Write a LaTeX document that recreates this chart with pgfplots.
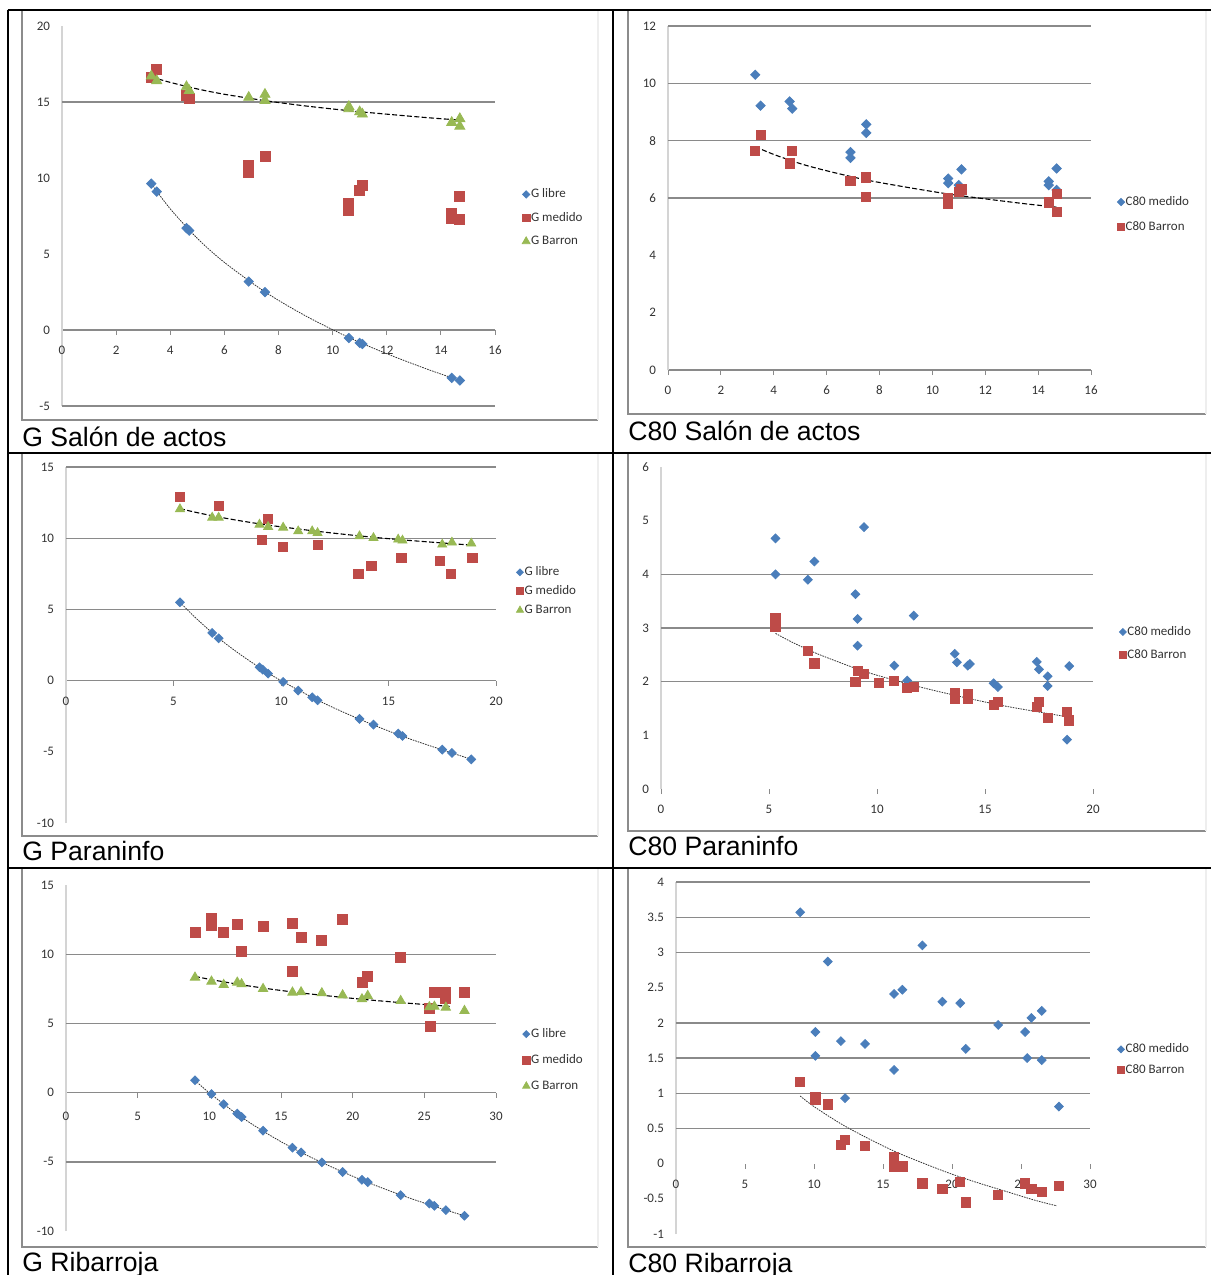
\documentclass[border=0pt]{standalone}
\usepackage{pgfplots}
\pgfplotsset{compat=1.18}
\usepackage{fontspec}
\setmainfont{Carlito}
\newfontfamily\capfont{Liberation Sans}

\definecolor{serA}{HTML}{4A7EBB}
\definecolor{serB}{HTML}{BE4B48}
\definecolor{serC}{HTML}{98B954}
\definecolor{axc}{HTML}{8A8A8A}
\definecolor{yaxc}{HTML}{D4D4D4}
\definecolor{frm}{HTML}{8C8C8C}
\definecolor{frmr}{HTML}{EEEEEE}

\pgfplotsset{
  excel/.style={
    scale only axis, anchor=south west, clip=false,
    axis x line=middle, axis y line=left, axis line style={-},
    x axis line style={draw=axc, line width=0.7pt},
    y axis line style={draw=yaxc, line width=0.8pt},
    tick align=outside, major tick length=2.5pt,
    xtick style={draw=axc, line width=0.5pt},
    ytick style={draw=none},
    hide obscured x ticks=false, hide obscured y ticks=false,
    tick label style={font=\fontsize{6.5}{7}\selectfont, text=black!80},
    xticklabel style={yshift=-2pt},
    /pgf/number format/assume math mode=true,
    major grid style={draw=axc, line width=0.7pt},
    extra y tick style={grid=major, tick style={draw=none}},
    extra y tick labels={},
    legend cell align=left,
    legend image code/.code={\draw[mark repeat=2,mark phase=2,##1,every mark/.append style={scale=0.78}] plot coordinates {(0pt,0pt)(2pt,0pt)(4pt,0pt)};},
    legend style={draw=none, fill=none, inner sep=0pt, anchor=west,
      font=\fontsize{6.5}{7}\selectfont, text=black!80,
      nodes={inner sep=0.5pt, text height=4.6pt, text depth=1.2pt},
      /tikz/every even column/.append style={column sep=0pt}},
  },
  sA/.style={only marks, mark=square*, mark options={rotate=45}, color=serA, mark size=1.65pt},
  sB/.style={only marks, mark=square*, color=serB, mark size=2.5pt},
  sC/.style={only marks, mark=triangle*, color=serC, mark size=2.9pt},
  trendD/.style={black, line width=0.55pt, dash pattern=on 2.5pt off 1.2pt, smooth, no marks, forget plot},
  trendS/.style={black!80, line width=0.4pt, dash pattern=on 0.8pt off 0.5pt, smooth, no marks, forget plot},
}

\begin{document}
\begin{tikzpicture}
\path[use as bounding box] (0pt,0pt) rectangle (605.5pt,-637.5pt);

% ---------- G Salon de actos ----------
\begin{axis}[excel, at={(31pt,-203pt)}, width=216.5pt, height=190pt,
  xmin=0, xmax=16, ymin=-5, ymax=20, xtick={0,2,...,16}, ytick={-5,0,...,20},
  extra y ticks={15,-5},
  legend style={at={(1.062,0.495)}, row sep=4.95pt}]
\addplot[sA] coordinates {(3.3,9.63)(3.5,9.10)(4.6,6.70)(4.7,6.54)(6.9,3.19)(7.5,2.49)(10.6,-0.53)(11.0,-0.85)(11.1,-0.92)(14.4,-3.15)(14.7,-3.32)};
\addplot[sB] coordinates {(3.3,16.6)(3.5,17.15)(4.6,15.45)(4.7,15.25)(6.9,10.8)(6.9,10.4)(7.5,11.4)(10.6,8.3)(10.6,7.9)(11.0,9.2)(11.1,9.5)(14.4,7.7)(14.4,7.35)(14.7,8.8)(14.7,7.25)};
\addplot[sC] coordinates {(3.3,16.7)(3.5,16.4)(4.6,16.0)(4.7,15.75)(6.9,15.3)(7.5,15.5)(7.5,15.1)(10.6,14.7)(10.6,14.55)(11.0,14.35)(11.1,14.2)(14.4,13.65)(14.7,13.9)(14.7,13.4)};
\addplot[trendD] coordinates {(3.3,16.65)(4,16.29)(5,15.86)(6,15.51)(7.5,15.09)(9,14.74)(10.6,14.43)(12,14.20)(13.5,13.97)(14.7,13.81)};
\addplot[trendS] coordinates {(3.3,9.63)(4,7.97)(5,6.03)(6,4.45)(7.5,2.51)(9,0.93)(10.6,-0.49)(12,-1.56)(13.5,-2.58)(14.7,-3.32)};
\legend{G libre, G medido, G Barron}
\end{axis}

% ---------- C80 Salon de actos ----------
\begin{axis}[excel, at={(334pt,-185pt)}, width=211.5pt, height=172pt,
  xmin=0, xmax=16, ymin=0, ymax=12, xtick={0,2,...,16}, ytick={0,2,...,12},
  extra y ticks={12,10,8,6},
  legend style={at={(1.0615,0.452)}, row sep=5.7pt}]
\addplot[sA] coordinates {(3.3,10.3)(3.5,9.22)(4.6,9.37)(4.7,9.12)(6.9,7.6)(6.9,7.4)(7.5,8.57)(7.5,8.27)(10.6,6.68)(10.6,6.52)(11.0,6.45)(11.1,7.0)(14.4,6.58)(14.4,6.45)(14.7,7.03)(14.7,6.28)};
\addplot[sB, mark size=2.3pt] coordinates {(3.3,7.64)(3.5,8.2)(4.6,7.21)(4.7,7.64)(6.9,6.6)(7.5,6.72)(7.5,6.05)(10.6,6.0)(10.6,5.8)(11.0,6.2)(11.1,6.3)(14.4,5.85)(14.7,6.14)(14.7,5.51)};
\addplot[trendD] coordinates {(3.3,7.79)(4,7.52)(5,7.20)(6,6.95)(7.5,6.63)(9,6.38)(10.6,6.14)(12,5.97)(13.5,5.80)(14.7,5.68)};
\legend{C80 medido, C80 Barron}
\end{axis}

% ---------- G Paraninfo ----------
\begin{axis}[excel, at={(33pt,-411.5pt)}, width=215pt, height=178pt,
  xmin=0, xmax=20, ymin=-10, ymax=15, xtick={0,5,...,20}, ytick={-10,-5,...,15},
  extra y ticks={15,10,5},
  legend style={at={(1.0465,0.651)}, row sep=2.7pt}]
\addplot[sA, mark size=1.55pt] coordinates {(5.3,5.50)(6.8,3.35)(7.1,2.97)(9.0,0.94)(9.15,0.77)(9.4,0.49)(10.1,-0.09)(10.8,-0.70)(11.45,-1.17)(11.7,-1.38)(13.65,-2.69)(14.3,-3.09)(15.45,-3.72)(15.65,-3.89)(17.5,-4.85)(17.95,-5.08)(18.85,-5.53)};
\addplot[sB, mark size=2.3pt] coordinates {(5.3,12.88)(7.1,12.25)(9.4,11.33)(9.1,9.86)(10.1,9.41)(11.7,9.55)(13.6,7.52)(14.2,8.03)(15.6,8.62)(17.4,8.43)(17.9,7.52)(18.9,8.64)};
\addplot[sC, mark size=2.6pt] coordinates {(5.3,12.04)(6.8,11.45)(7.1,11.45)(9.0,10.96)(9.4,10.80)(10.1,10.75)(10.8,10.49)(11.45,10.49)(11.7,10.37)(13.65,10.14)(14.3,10.02)(15.45,9.91)(15.65,9.84)(17.5,9.56)(17.95,9.70)(18.85,9.63)};
\addplot[trendD] coordinates {(5.3,12.08)(6,11.83)(7,11.52)(8,11.25)(9,11.01)(10,10.80)(12,10.43)(14,10.11)(16,9.84)(18.9,9.51)};
\addplot[trendS] coordinates {(5.3,5.50)(6,4.45)(7,3.10)(8,1.95)(9,0.92)(10,0.0)(12,-1.59)(14,-2.93)(16,-4.10)(18.86,-5.53)};
\legend{G libre, G medido, G Barron}
\end{axis}

% ---------- C80 Paraninfo ----------
\begin{axis}[excel, at={(330.5pt,-394.5pt)}, width=216pt, height=161pt,
  xmin=0, xmax=20, ymin=0, ymax=6, xtick={0,5,...,20}, ytick={0,1,...,6},
  x axis line style={draw=none}, y axis line style={line width=1.3pt},
  extra y ticks={4,3,2},
  legend style={at={(1.060,0.452)}, row sep=4.7pt}]
\addplot[sA, mark size=1.55pt] coordinates {(5.3,4.67)(5.3,4.00)(6.8,3.90)(7.1,4.24)(9.0,3.63)(9.1,3.17)(9.1,2.67)(9.4,4.88)(10.8,2.30)(11.4,2.02)(11.7,3.23)(13.6,2.52)(13.7,2.36)(14.2,2.30)(14.3,2.33)(15.4,1.97)(15.6,1.90)(17.4,2.37)(17.5,2.23)(17.9,2.10)(17.9,1.92)(18.8,0.92)(18.9,2.29)};
\addplot[sB, mark size=2.3pt] coordinates {(5.3,3.19)(5.3,3.03)(6.8,2.58)(7.1,2.34)(9.0,2.00)(9.1,2.20)(9.4,2.15)(10.1,1.98)(10.8,2.01)(11.4,1.88)(11.7,1.90)(13.6,1.78)(13.6,1.69)(14.2,1.77)(14.2,1.69)(15.4,1.57)(15.6,1.62)(17.4,1.53)(17.5,1.62)(17.9,1.32)(18.8,1.43)(18.9,1.28)};
\addplot[trendS] coordinates {(5.3,2.90)(6,2.75)(7,2.56)(8,2.40)(9,2.25)(10,2.12)(12,1.90)(14,1.71)(16,1.54)(18.9,1.34)};
\legend{C80 medido, C80 Barron}
\end{axis}

% ---------- G Ribarroja ----------
\begin{axis}[excel, at={(33pt,-615.5pt)}, width=215pt, height=173pt,
  xmin=0, xmax=30, ymin=-10, ymax=15, xtick={0,5,...,30}, ytick={-10,-5,...,15},
  xticklabel style={yshift=-1.5pt},
  extra y ticks={10,5,-5},
  legend style={at={(1.0605,0.494)}, row sep=6.2pt}]
\addplot[sA, mark size=1.55pt] coordinates {(9.0,0.89)(10.15,-0.10)(11.0,-0.84)(11.95,-1.52)(12.25,-1.76)(13.75,-2.75)(15.8,-3.98)(16.4,-4.32)(17.85,-5.04)(19.3,-5.74)(20.65,-6.30)(21.05,-6.47)(23.35,-7.41)(25.35,-8.01)(25.7,-8.18)(26.5,-8.49)(27.8,-8.90)};
\addplot[sB] coordinates {(9.0,11.58)(10.15,12.62)(10.15,12.09)(11.0,11.58)(11.95,12.18)(12.25,10.21)(13.75,12.01)(15.8,12.26)(15.8,8.76)(16.4,11.22)(17.85,10.98)(19.3,12.50)(20.65,7.96)(21.05,8.40)(23.35,9.77)(25.35,6.10)(25.45,4.78)(25.7,7.24)(26.5,7.24)(26.5,6.83)(27.8,7.24)};
\addplot[sC, mark size=2.7pt] coordinates {(9.0,8.32)(10.15,8.03)(11.0,7.79)(11.95,7.96)(12.25,7.84)(13.75,7.50)(15.8,7.24)(16.4,7.26)(17.85,7.19)(19.3,7.04)(20.65,6.76)(21.05,7.00)(23.35,6.63)(25.35,6.18)(25.7,6.22)(26.5,6.15)(27.8,5.91)};
\addplot[trendD] coordinates {(9.0,8.40)(10,8.19)(12,7.83)(14,7.52)(16,7.25)(18,7.02)(20,6.81)(22,6.62)(24,6.45)(26.9,6.22)};
\addplot[trendS] coordinates {(9.0,0.89)(10,-0.02)(12,-1.60)(14,-2.94)(16,-4.11)(18,-5.12)(20,-6.04)(22,-6.87)(24,-7.63)(26,-8.32)(27.8,-8.90)};
\legend{G libre, G medido, G Barron}
\end{axis}

% ---------- C80 Ribarroja ----------
\begin{axis}[excel, at={(338pt,-617pt)}, width=207pt, height=176pt,
  xmin=0, xmax=30, ymin=-1, ymax=4, xtick={0,5,...,30}, ytick={-1,-0.5,...,4},
  x axis line style={draw=none},
  extra y ticks={4,3.5,3,2,1.5,1,0.5},
  legend style={at={(1.0652,0.495)}, row sep=3.7pt}]
\addplot[sA, mark size=1.55pt] coordinates {(9.0,3.57)(10.1,1.87)(10.1,1.53)(11.0,2.87)(11.95,1.74)(12.25,0.93)(13.7,1.70)(15.8,2.41)(15.8,1.33)(16.4,2.47)(17.85,3.10)(19.3,2.30)(20.6,2.28)(21.0,1.63)(23.35,1.97)(25.3,1.87)(25.45,1.50)(25.75,2.07)(26.5,2.17)(26.5,1.47)(27.75,0.81)};
\addplot[sB, mark size=2.3pt] coordinates {(9.0,1.16)(10.1,0.94)(10.1,0.90)(11.0,0.84)(11.95,0.27)(12.25,0.34)(13.7,0.25)(15.8,0.10)(15.8,-0.04)(16.4,-0.04)(17.85,-0.28)(19.3,-0.36)(20.6,-0.26)(21.0,-0.55)(23.35,-0.44)(25.3,-0.28)(25.75,-0.36)(26.5,-0.40)(27.75,-0.32)};
\addplot[trendS] coordinates {(9.0,0.96)(10,0.81)(12,0.56)(14,0.35)(16,0.16)(18,0.0)(20,-0.15)(22,-0.28)(24,-0.40)(26,-0.52)(27.6,-0.60)};
\legend{C80 medido, C80 Barron}
\end{axis}

% chart area frames
\begin{scope}[line width=0.7pt]
\draw[frm] (11pt,-5pt) -- (11pt,-210pt) -- (299pt,-210pt);
\draw[frmr] (299pt,-5pt) -- (299pt,-210pt);
\draw[frm] (314pt,-5pt) -- (314pt,-207pt) -- (603pt,-207pt);
\draw[frmr] (603pt,-5pt) -- (603pt,-207pt);
\draw[frm] (11pt,-226pt) -- (11pt,-418pt) -- (299pt,-418pt);
\draw[frmr] (299pt,-226pt) -- (299pt,-418pt);
\draw[frm] (314pt,-226pt) -- (314pt,-415.5pt) -- (603pt,-415.5pt);
\draw[frmr] (603pt,-226pt) -- (603pt,-415.5pt);
\draw[frm] (11pt,-434pt) -- (11pt,-623.5pt) -- (299pt,-623.5pt);
\draw[frmr] (299pt,-434pt) -- (299pt,-623.5pt);
\draw[frm] (314pt,-434pt) -- (314pt,-623.5pt) -- (603pt,-623.5pt);
\draw[frmr] (603pt,-434pt) -- (603pt,-623.5pt);
\end{scope}

% table rules
\begin{scope}[line width=1pt, black]
\draw (3.85pt,-5.15pt) -- (605.5pt,-5.15pt);
\draw (3.85pt,-5.15pt) -- (3.85pt,-637.5pt);
\draw (306.3pt,-5.15pt) -- (306.3pt,-637.5pt);
\draw (3.85pt,-226.3pt) -- (605.5pt,-226.3pt);
\draw (3.85pt,-434pt) -- (605.5pt,-434pt);
\end{scope}

% captions
\begin{scope}[every node/.style={anchor=base west, inner sep=0pt, font=\capfont\fontsize{13.3}{15}\selectfont}]
\node at (11pt,-223pt) {G Salón de actos};
\node at (314pt,-220pt) {C80 Salón de actos};
\node at (11pt,-430pt) {G Paraninfo};
\node at (314pt,-427.5pt) {C80 Paraninfo};
\node at (11pt,-635.8pt) {G Ribarroja};
\node at (314pt,-636pt) {C80 Ribarroja};
\end{scope}
\end{tikzpicture}
\end{document}
